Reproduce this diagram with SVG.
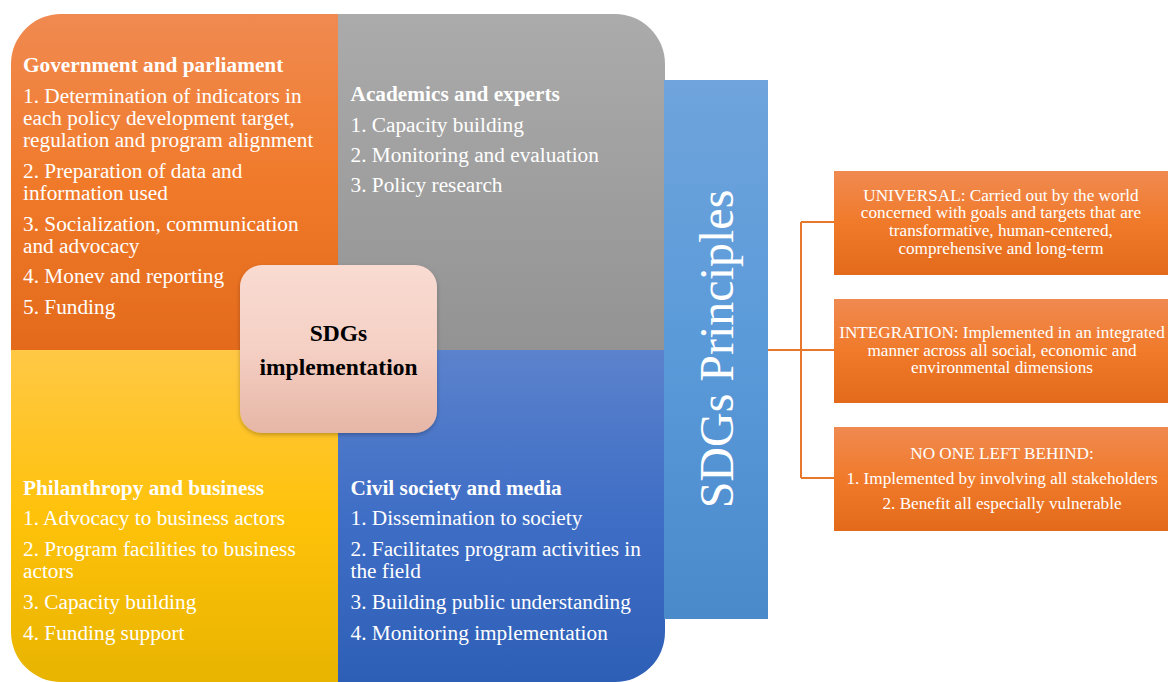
<svg xmlns="http://www.w3.org/2000/svg" width="1168" height="682" viewBox="0 0 1168 682">
<defs>
<linearGradient id="gOr" x1="0" y1="0" x2="0" y2="1"><stop offset="0" stop-color="#f08a51"/><stop offset="0.5" stop-color="#f07a2a"/><stop offset="1" stop-color="#e36a1b"/></linearGradient>
<linearGradient id="gGr" x1="0" y1="0" x2="0" y2="1"><stop offset="0" stop-color="#ababab"/><stop offset="1" stop-color="#939393"/></linearGradient>
<linearGradient id="gYe" x1="0" y1="0" x2="0" y2="1"><stop offset="0" stop-color="#ffc845"/><stop offset="0.5" stop-color="#ffc20a"/><stop offset="1" stop-color="#e8b400"/></linearGradient>
<linearGradient id="gBl" x1="0" y1="0" x2="0" y2="1"><stop offset="0" stop-color="#5b82cc"/><stop offset="0.5" stop-color="#3f6ec6"/><stop offset="1" stop-color="#2e5fb7"/></linearGradient>
<linearGradient id="gBar" x1="0" y1="0" x2="0" y2="1"><stop offset="0" stop-color="#6fa4dc"/><stop offset="0.5" stop-color="#5a9ad9"/><stop offset="1" stop-color="#4a8acb"/></linearGradient>
<linearGradient id="gCen" x1="0" y1="0" x2="0" y2="1"><stop offset="0" stop-color="#f9dbd2"/><stop offset="0.5" stop-color="#f5d0c4"/><stop offset="1" stop-color="#e6b6a6"/></linearGradient>
<linearGradient id="gBox" x1="0" y1="0" x2="0" y2="1"><stop offset="0" stop-color="#f08a51"/><stop offset="0.5" stop-color="#f07a2a"/><stop offset="1" stop-color="#e36a1b"/></linearGradient>
<clipPath id="clipMain"><rect x="11" y="14" width="654" height="668" rx="50" ry="50"/></clipPath>
<filter id="sh" x="-10%" y="-10%" width="120%" height="125%"><feDropShadow dx="0" dy="2" stdDeviation="2" flood-color="#000" flood-opacity="0.25"/></filter>
</defs>
<style>
.h{font-family:"Liberation Serif","Times New Roman",serif;font-weight:bold;font-size:21.3px;fill:#ffffff}
.b{font-family:"Liberation Serif","Times New Roman",serif;font-size:21.3px;fill:#ffffff}
.c{font-family:"Liberation Serif","Times New Roman",serif;font-weight:bold;font-size:23.5px;fill:#000000;text-anchor:middle}
.r{font-family:"Liberation Serif","Times New Roman",serif;font-size:17.2px;fill:#ffffff;text-anchor:middle}
.p{font-family:"Liberation Serif","Times New Roman",serif;font-size:48px;fill:#ffffff;text-anchor:middle}
.ln{stroke:#e8772e;stroke-width:2;fill:none}
</style>

<g id="quadrants" clip-path="url(#clipMain)">
<rect id="q-gov" x="11" y="14" width="327" height="336" fill="url(#gOr)"/>
<rect id="q-acad" x="338" y="14" width="327" height="336" fill="url(#gGr)"/>
<rect id="q-phil" x="11" y="350" width="327" height="332" fill="url(#gYe)"/>
<rect id="q-civil" x="338" y="350" width="327" height="332" fill="url(#gBl)"/>
</g>

<g id="node-gov">
<text class="h" x="23" y="72">Government and parliament</text>
<text class="b" x="23" y="102.7">1. Determination of indicators in</text>
<text class="b" x="23" y="124.8">each policy development target,</text>
<text class="b" x="23" y="146.8">regulation and program alignment</text>
<text class="b" x="23" y="177.5">2. Preparation of data and</text>
<text class="b" x="23" y="199.5">information used</text>
<text class="b" x="23" y="230.7">3. Socialization, communication</text>
<text class="b" x="23" y="252.7">and advocacy</text>
<text class="b" x="23" y="283.3">4. Monev and reporting</text>
<text class="b" x="23" y="314">5. Funding</text>
</g>

<g id="node-acad">
<text class="h" x="350.5" y="100.5">Academics and experts</text>
<text class="b" x="350.5" y="131.7">1. Capacity building</text>
<text class="b" x="350.5" y="161.7">2. Monitoring and evaluation</text>
<text class="b" x="350.5" y="192.3">3. Policy research</text>
</g>

<g id="node-phil">
<text class="h" x="23" y="495">Philanthropy and business</text>
<text class="b" x="23" y="525">1. Advocacy to business actors</text>
<text class="b" x="23" y="556">2. Program facilities to business</text>
<text class="b" x="23" y="578">actors</text>
<text class="b" x="23" y="609">3. Capacity building</text>
<text class="b" x="23" y="640">4. Funding support</text>
</g>

<g id="node-civil">
<text class="h" x="350.5" y="495">Civil society and media</text>
<text class="b" x="350.5" y="525">1. Dissemination to society</text>
<text class="b" x="350.5" y="556">2. Facilitates program activities in</text>
<text class="b" x="350.5" y="578">the field</text>
<text class="b" x="350.5" y="609">3. Building public understanding</text>
<text class="b" x="350.5" y="640">4. Monitoring implementation</text>
</g>

<g id="node-center">
<rect x="240" y="265" width="197" height="168" rx="22" ry="22" fill="url(#gCen)" filter="url(#sh)"/>
<text class="c" x="338.5" y="340.5">SDGs</text>
<text class="c" x="338.5" y="375">implementation</text>
</g>

<g id="node-principles">
<rect x="664" y="80" width="104" height="539" fill="url(#gBar)"/>
<text class="p" transform="translate(733,349) rotate(-90)">SDGs Principles</text>
</g>

<g id="connectors">
<path class="ln" d="M768 350 H801 M801 222 V478 M801 222 H834 M801 350 H834 M801 478 H834"/>
</g>

<g id="node-universal">
<rect x="834" y="171" width="334" height="104" fill="url(#gBox)"/>
<text class="r" x="1001" y="200.7">UNIVERSAL: Carried out by the world</text>
<text class="r" x="1001" y="218.3">concerned with goals and targets that are</text>
<text class="r" x="1001" y="236">transformative, human-centered,</text>
<text class="r" x="1001" y="253.7">comprehensive and long-term</text>
</g>

<g id="node-integration">
<rect x="834" y="299" width="334" height="104" fill="url(#gBox)"/>
<text class="r" x="1002" y="338">INTEGRATION: Implemented in an integrated</text>
<text class="r" x="1002" y="356">manner across all social, economic and</text>
<text class="r" x="1002" y="372.7">environmental dimensions</text>
</g>

<g id="node-noone">
<rect x="834" y="427" width="334" height="104" fill="url(#gBox)"/>
<text class="r" x="1002" y="459">NO ONE LEFT BEHIND:</text>
<text class="r" x="1002" y="484">1. Implemented by involving all stakeholders</text>
<text class="r" x="1002" y="508.7">2. Benefit all especially vulnerable</text>
</g>
</svg>
